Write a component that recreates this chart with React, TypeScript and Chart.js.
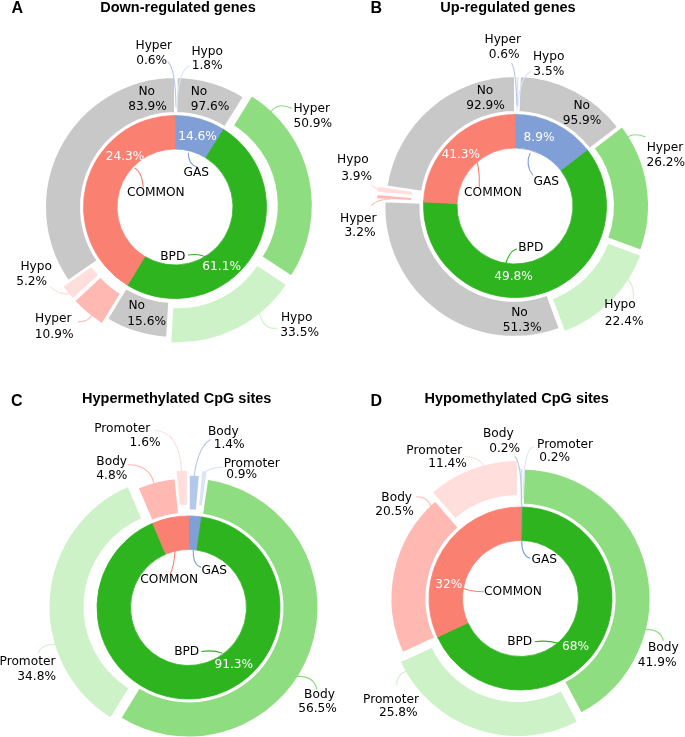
import React, { useEffect, useRef } from 'react';
import { Chart, registerables } from 'chart.js';

Chart.register(...registerables);

// ---------------- data ----------------
const groupNames = ['GAS', 'BPD', 'COMMON'];
const statusNames = ['Hyper', 'Hypo', 'No'];
const regionNames = ['Body', 'Promoter'];

// Panel A - Down-regulated genes (inner arcs as drawn, inner labels as printed)
const innerShareA = [8.9, 49.8, 41.3];
const innerPctA = ['14.6%', '61.1%', '24.3%'];
const gasPctA = [0.6, 1.8, 97.6];
const bpdPctA = [50.9, 33.5, 15.6];
const commonPctA = [10.9, 5.2, 83.9];

// Panel B - Up-regulated genes
const innerShareB = [14.6, 61.1, 24.3];
const innerPctB = ['8.9%', '49.8%', '41.3%'];
const gasPctB = [0.6, 3.5, 95.9];
const bpdPctB = [26.2, 22.4, 51.3];
const commonPctB = [3.2, 3.9, 92.9];

// Panel C - Hypermethylated CpG sites (% of all sites)
const gasSitesC = [1.4, 0.9];
const bpdSitesC = [56.5, 34.8];
const commonSitesC = [4.8, 1.6];
const innerPctC = ['', '91.3%', ''];

// Panel D - Hypomethylated CpG sites
const gasSitesD = [0.2, 0.2];
const bpdSitesD = [41.9, 25.8];
const commonSitesD = [20.5, 11.4];
const innerPctD = ['', '68%', '32%'];

const titles = ['Down-regulated genes', 'Up-regulated genes', 'Hypermethylated CpG sites', 'Hypomethylated CpG sites'];
const letters = ['A', 'B', 'C', 'D'];

// ---------------- styles ----------------
const innerCols = ['#7f9fd6', '#2db41f', '#fa8072'];
const outerColsAB = ['#b4c8ec', '#d9e5f7', '#c8c8c8', '#8edd80', '#cdf2c7', '#c8c8c8', '#ffb8b2', '#ffdedb', '#c8c8c8'];
const outerColsCD = ['#b4c8ec', '#d9e5f7', '#8edd80', '#cdf2c7', '#ffb8b2', '#ffdedb'];

const explodeA = [0, 0, 0, 8, 7, 1, 8, 8, 0];
const explodeB = [0, 0, 0, 4, 6, 1, 9, 9, 0];
const explodeC = [3, 8, 0, 10, 0, 8];
const explodeD = [0, 0, 0, 9, 0, 9];

const LABEL_FONT = '12.2px "DejaVu Sans", sans-serif';
const TITLE_FONT = '"Liberation Sans", Arial, Helvetica, sans-serif';

// ---------------- annotation layout (relative to ring centre) ----------------
type P = [number, number];
type Lay = { n: P; p?: P; l?: number[] };

const layOuterA: Lay[] = [
  { n: [-21.2, -161.2], p: [-23.3, -146.5], l: [-7, -145, 0.5, -138, 1, -100] },
  { n: [32.2, -155.3], p: [32.2, -141.2], l: [14, -141, 3, -136, 2, -100] },
  { n: [24, -115.3], p: [35, -100.3] },
  { n: [136.7, -98], p: [137.8, -83], l: [116.7, -98.7, 100, -107, 91.7, -88.7] },
  { n: [121.7, 110.5], p: [124.7, 126], l: [101.7, 121.3, 87, 123, 83.3, 101.3] },
  { n: [-38.3, 99], p: [-28.3, 115] },
  { n: [-121.7, 112], p: [-120.8, 128], l: [-96.7, 114.7, -83.3, 114.7, -81.7, 103] },
  { n: [-138.8, 59.7], p: [-143.3, 74.7], l: [-125, 79.7, -115, 89, -103.3, 86.3] },
  { n: [-28.3, -115.3], p: [-27.5, -100.3] },
];
const layInnerA: Lay[] = [
  { n: [21.3, -33.7], p: [22.5, -70.3], l: [13.3, -54, 13.7, -42, 21.7, -40.3] },
  { n: [-2.2, 49.7], p: [46.7, 59.7], l: [13.3, 48, 25, 46.3, 33.3, 51.3] },
  { n: [-19.2, -13.7], p: [-50, -50.3], l: [-40, -38.7, -33.3, -35.3, -31.7, -20.3] },
];

const layOuterB: Lay[] = [
  { n: [-12.2, -166], p: [-10.8, -151], l: [-3.3, -142.7, 1, -135, 2, -100] },
  { n: [33.7, -149.3], p: [33.8, -134.3], l: [15.7, -134.3, 5, -130, 3, -100] },
  { n: [66.7, -100.2], p: [67, -85.2] },
  { n: [150, -58.5], p: [150.8, -43.5], l: [130, -69.3, 112, -76, 106.7, -59.3] },
  { n: [105, 99], p: [109.2, 115.7], l: [118.3, 92.3, 120, 72.3, 101.7, 67.3] },
  { n: [4.5, 107.3], p: [7.2, 122.3] },
  { n: [-156.7, 13], p: [-155, 27.3], l: [-143.3, -1, -136, -7, -125, -7] },
  { n: [-162.2, -46], p: [-158.3, -29.3], l: [-143.3, -21, -135, -13, -125, -14.3] },
  { n: [-30, -115.2], p: [-29.5, -99.8] },
];
const layInnerB: Lay[] = [
  { n: [31.3, -24.3], p: [24, -67.7], l: [15, -52.7, 10, -41, 17.7, -31] },
  { n: [15.8, 42.3], p: [-1.5, 70.7], l: [1.5, 43, -6.7, 45.7, -10, 60.7] },
  { n: [-22, -12.7], p: [-54.2, -51], l: [-41.7, -54.3, -35, -42.7, -35.7, -19.3] },
];

const layOuterC: Lay[] = [
  { n: [34.8, -175.7], p: [40.7, -162.7], l: [21.5, -167.7, 8.2, -159.4, 4.8, -124.4] },
  { n: [63.2, -144], p: [53.2, -132.7], l: [34.2, -140.4, 16.5, -139.4, 13.2, -131] },
  { n: [131, 87.3], p: [129, 101.3], l: [128.2, 81.6, 125, 66, 101.5, 69.6] },
  { n: [-161, 54.3], p: [-151.8, 69], l: [-150.2, 45.6, -146.8, 35.6, -130.2, 37.3] },
  { n: [-76.8, -146], p: [-76.7, -131.9], l: [-60.2, -142.7, -36.8, -142.7, -33.5, -119.4] },
  { n: [-66.3, -179], p: [-43.5, -164.4], l: [-33.5, -177, -8.5, -176, -6.8, -134.4] },
];
const layInnerC: Lay[] = [
  { n: [25.7, -36.7], l: [4.8, -57.7, 4.2, -42.7, 12.2, -40.4] },
  { n: [-1.8, 44], p: [45.3, 57.3], l: [13.2, 44, 24.8, 42.3, 33.2, 45.6] },
  { n: [-19.3, -27.2], l: [-13.5, -56, -14.5, -41, -18.5, -32.7] },
];

const layOuterD: Lay[] = [
  { n: [-22.2, -164.8], p: [-15.8, -149.8], l: [-5.5, -141.8, 1.2, -135, 1.2, -92] },
  { n: [44.5, -153.2], p: [34.2, -140.5], l: [12.8, -151.2, 2.8, -150.2, 2.8, -100] },
  { n: [142.8, 49.2], p: [136.7, 64.8], l: [142.8, 42, 139.5, 28.2, 117.8, 31.5] },
  { n: [-129.5, 101.5], p: [-122.2, 114.8], l: [-123.8, 86, -123.2, 72.2, -107.2, 71.5] },
  { n: [-123.8, -100.8], p: [-126, -86.8], l: [-103.8, -101.8, -91.2, -101.8, -88.8, -88.5] },
  { n: [-86.2, -147.2], p: [-73, -134.8], l: [-55.5, -141.8, -37.2, -141.8, -35.5, -126.8] },
];
const layInnerD: Lay[] = [
  { n: [23.7, -38.5], l: [1.2, -57, 1.2, -43, 9.5, -40.2] },
  { n: [-0.8, 43.2], p: [55, 48.7], l: [14.5, 43.2, 26.2, 41.5, 37.8, 44.8] },
  { n: [-7.5, -6.5], p: [-71.7, -13.5], l: [-57.2, -10.2, -50.5, -6.8, -37.2, -6.8] },
];

const headLayout = [
  { lx: 11.5, lb: 13.5, tcx: 178, tb: 12.7 },
  { lx: 370.5, lb: 13.5, tcx: 508, tb: 12.7 },
  { lx: 11, lb: 406.5, tcx: 176.7, tb: 403.7 },
  { lx: 370.5, lb: 406.5, tcx: 516.7, tb: 403.7 },
];

// ---------------- helpers ----------------
const sum = (a: number[]) => a.reduce((s, v) => s + v, 0);
const nestedFromShares = (shares: number[], subs: number[][]) =>
  subs.flatMap((sub, g) => sub.map((v) => (v * shares[g]) / 100));
const textsFrom = (names: string[], subs: number[][]) =>
  subs.flatMap((sub) => sub.map((v, i) => [names[i], `${v}%`]));

const subsA = [gasPctA, bpdPctA, commonPctA];
const subsB = [gasPctB, bpdPctB, commonPctB];
const subsC = [gasSitesC, bpdSitesC, commonSitesC];
const subsD = [gasSitesD, bpdSitesD, commonSitesD];

const panels = [
  {
    cx: 175, cy: 207,
    outer: nestedFromShares(innerShareA, subsA), inner: innerShareA,
    outerCols: outerColsAB, outerTexts: textsFrom(statusNames, subsA), innerPct: innerPctA,
    explode: explodeA, layOuter: layOuterA, layInner: layInnerA,
  },
  {
    cx: 515, cy: 206,
    outer: nestedFromShares(innerShareB, subsB), inner: innerShareB,
    outerCols: outerColsAB, outerTexts: textsFrom(statusNames, subsB), innerPct: innerPctB,
    explode: explodeB, layOuter: layOuterB, layInner: layInnerB,
  },
  {
    cx: 188.5, cy: 607.5,
    outer: subsC.flat(), inner: subsC.map(sum),
    outerCols: outerColsCD, outerTexts: textsFrom(regionNames, subsC), innerPct: innerPctC,
    explode: explodeC, layOuter: layOuterC, layInner: layInnerC,
  },
  {
    cx: 520.5, cy: 598.5,
    outer: subsD.flat(), inner: subsD.map(sum),
    outerCols: outerColsCD, outerTexts: textsFrom(regionNames, subsD), innerPct: innerPctD,
    explode: explodeD, layOuter: layOuterD, layInner: layInnerD,
  },
];

function buildItems(p: any) {
  const items: any[] = [];
  p.layOuter.forEach((lay: Lay, i: number) => {
    items.push({
      lead: lay.l, color: p.outerCols[i],
      lines: [
        { t: p.outerTexts[i][0], x: lay.n[0], y: lay.n[1], c: '#000' },
        { t: p.outerTexts[i][1], x: lay.p![0], y: lay.p![1], c: '#000' },
      ],
    });
  });
  p.layInner.forEach((lay: Lay, i: number) => {
    const lines = [{ t: groupNames[i], x: lay.n[0], y: lay.n[1], c: '#000' }];
    if (lay.p && p.innerPct[i]) lines.push({ t: p.innerPct[i], x: lay.p[0], y: lay.p[1], c: '#fff' });
    items.push({ lead: lay.l, color: innerCols[i], lines });
  });
  return items;
}

function annotPlugin(items: any[]) {
  return {
    id: 'annot',
    afterDraw(chart: any) {
      const ctx = chart.ctx as CanvasRenderingContext2D;
      const arc = chart.getDatasetMeta(0).data[0];
      const cx = arc.x;
      const cy = arc.y;
      ctx.save();
      ctx.lineWidth = 1.1;
      ctx.lineCap = 'round';
      for (const it of items) {
        if (!it.lead) continue;
        const l = it.lead;
        ctx.strokeStyle = it.color;
        ctx.beginPath();
        ctx.moveTo(cx + l[0], cy + l[1]);
        ctx.quadraticCurveTo(cx + l[2], cy + l[3], cx + l[4], cy + l[5]);
        ctx.stroke();
      }
      ctx.font = LABEL_FONT;
      ctx.textAlign = 'center';
      ctx.textBaseline = 'middle';
      for (const it of items) {
        for (const ln of it.lines) {
          ctx.fillStyle = ln.c;
          ctx.fillText(ln.t, cx + ln.x, cy + ln.y);
        }
      }
      ctx.restore();
    },
  };
}

const offsetFor = (explode: number[]) => (c: any) => {
  const data = c.dataset.data as number[];
  const circ = (data[c.dataIndex] / sum(data)) * Math.PI * 2;
  const fix = 1 - Math.sin(Math.min(Math.PI, circ));
  return (4 * (explode[c.dataIndex] || 0)) / (1 + fix);
};
const borderFor = (c: any) => {
  const data = c.dataset.data as number[];
  const deg = (data[c.dataIndex] / sum(data)) * 360;
  return deg < 1.5 ? 0.5 : 2;
};

const S = 420;

function Panel({ cfg }: { cfg: any }) {
  const ref = useRef<HTMLCanvasElement>(null);
  const left = Math.floor(cfg.cx - S / 2);
  const top = Math.floor(cfg.cy - S / 2);
  const padL = 2 * (cfg.cx - S / 2 - left);
  const padT = 2 * (cfg.cy - S / 2 - top);

  useEffect(() => {
    const chart = new Chart(ref.current as HTMLCanvasElement, {
      type: 'doughnut',
      data: {
        labels: cfg.outerTexts.map((t: string[]) => t[0]),
        datasets: [
          {
            data: cfg.outer,
            backgroundColor: cfg.outerCols,
            borderColor: '#ffffff',
            borderWidth: borderFor,
            offset: offsetFor(cfg.explode),
            weight: 36,
          } as any,
          { data: [1], backgroundColor: 'rgba(0,0,0,0)', borderWidth: 0, weight: 2.5 } as any,
          {
            data: cfg.inner,
            backgroundColor: innerCols,
            borderColor: innerCols,
            borderWidth: 0.8,
            weight: 33.5,
          } as any,
        ],
      },
      options: {
        responsive: false,
        animation: false,
        devicePixelRatio: 1,
        events: [],
        radius: 130,
        cutout: '44.62%',
        layout: { padding: { left: padL, top: padT, right: 0, bottom: 0 } },
        plugins: {
          legend: { display: false },
          tooltip: { enabled: false },
          title: { display: false },
        },
      } as any,
      plugins: [annotPlugin(buildItems(cfg))],
    });
    return () => chart.destroy();
  }, []);

  return (
    <canvas
      ref={ref}
      width={S}
      height={S}
      style={{ position: 'absolute', left, top, width: S, height: S }}
    />
  );
}

export default function App() {
  const LET = 16;
  const TIT = 14.5;
  return (
    <div
      style={{
        position: 'absolute', left: 0, top: 0, width: 685, height: 737,
        overflow: 'hidden', background: '#ffffff',
      }}
    >
      {panels.map((p, i) => (
        <Panel key={i} cfg={p} />
      ))}
      {headLayout.map((h, i) => (
        <React.Fragment key={'h' + i}>
          <div
            style={{
              position: 'absolute', left: h.lx, top: h.lb - 0.8465 * LET,
              fontFamily: TITLE_FONT, fontWeight: 'bold', fontSize: LET, lineHeight: `${LET}px`,
              color: '#000', whiteSpace: 'nowrap',
            }}
          >
            {letters[i]}
          </div>
          <div
            style={{
              position: 'absolute', left: h.tcx - 200, width: 400, textAlign: 'center',
              top: h.tb - 0.8465 * TIT,
              fontFamily: TITLE_FONT, fontWeight: 'bold', fontSize: TIT, lineHeight: `${TIT}px`,
              color: '#000', whiteSpace: 'nowrap',
            }}
          >
            {titles[i]}
          </div>
        </React.Fragment>
      ))}
    </div>
  );
}
